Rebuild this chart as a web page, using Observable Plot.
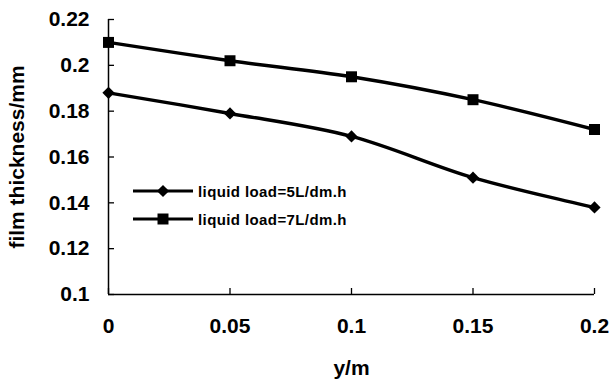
<!DOCTYPE html>
<html>
<head>
<meta charset="utf-8">
<script src="https://cdn.jsdelivr.net/npm/d3@7"></script>
<script src="https://cdn.jsdelivr.net/npm/@observablehq/plot@0.6"></script>
<style>
  html, body { margin: 0; padding: 0; background: #fff; }
  #chart { position: relative; width: 611px; height: 380px; }
  #legend { position: absolute; left: 133px; top: 177px; font-family: "Liberation Sans", Arial, sans-serif; font-weight: bold; font-size: 15px; letter-spacing: 0.4px; color: #000; }
  #legend .row { display: flex; align-items: center; height: 28px; }
  #legend svg { display: block; margin-right: 3px; }
</style>
</head>
<body>
<div id="chart"><div id="legend"></div></div>
<script>
// Position along the film (m)
const positions = [0, 0.05, 0.1, 0.15, 0.2];
// Film thickness (mm) for each liquid load
const load5 = [0.188, 0.179, 0.169, 0.151, 0.138];
const load7 = [0.210, 0.202, 0.195, 0.185, 0.172];
const seriesNames = ["liquid load=5L/dm.h", "liquid load=7L/dm.h"];
const seriesSymbols = ["diamond2", "square"];
const xTicks = [0, 0.05, 0.1, 0.15, 0.2];
const yTicks = [0.1, 0.12, 0.14, 0.16, 0.18, 0.2, 0.22];

const rows = [load5, load7].flatMap((vals, s) =>
  positions.map((x, i) => ({x, y: vals[i], series: seriesNames[s]}))
);
const symbolRadius = {diamond2: 5.5, square: 6.2};

const fmt = d => String(+d.toFixed(2));
const font = "Liberation Sans, Arial, sans-serif";

const chart = Plot.plot({
  width: 611,
  height: 380,
  marginLeft: 108,
  marginRight: 17,
  marginTop: 19,
  marginBottom: 86,
  style: {fontFamily: font, fontSize: "21px", fontWeight: "bold", color: "#000", background: "#fff"},
  x: {domain: [0, 0.2]},
  y: {domain: [0.1, 0.22]},
  marks: [
    // inward tick marks
    Plot.axisX({ticks: xTicks, tickSize: 6, dy: -6, text: null, label: null, strokeWidth: 1.3}),
    Plot.axisY({ticks: yTicks, tickSize: 6, dx: 6, text: null, label: null, strokeWidth: 1.3}),
    // tick labels and titles
    Plot.axisX({ticks: xTicks, tickSize: 0, tickPadding: 24, tickFormat: fmt,
      label: "y/m", labelAnchor: "center", labelArrow: "none", labelOffset: 80}),
    Plot.axisY({ticks: yTicks, tickSize: 0, tickPadding: 19, tickFormat: fmt,
      label: "film thickness/mm", labelAnchor: "center", labelArrow: "none", labelOffset: 99}),
    Plot.ruleX([0], {stroke: "#000", strokeWidth: 1.5}),
    Plot.ruleY([0.1], {stroke: "#000", strokeWidth: 1.5}),
    Plot.line(rows, {x: "x", y: "y", z: "series", stroke: "#000", strokeWidth: 3.4, curve: "catmull-rom"}),
    ...seriesNames.map((name, s) =>
      Plot.dot(rows.filter(d => d.series === name), {
        x: "x", y: "y", symbol: seriesSymbols[s], fill: "#000", stroke: "none",
        r: symbolRadius[seriesSymbols[s]]
      })
    )
  ]
});
document.getElementById("chart").prepend(chart);

// Legend drawn as a small overlay inside the plot area
const legend = d3.select("#legend");
seriesNames.forEach((name, i) => {
  const row = legend.append("div").attr("class", "row");
  const svg = row.append("svg").attr("width", 62).attr("height", 14);
  svg.append("line").attr("x1", 0).attr("x2", 60).attr("y1", 7).attr("y2", 7)
    .attr("stroke", "#000").attr("stroke-width", 3);
  const sym = seriesSymbols[i] === "square" ? d3.symbolSquare : d3.symbolDiamond2;
  const rr = symbolRadius[seriesSymbols[i]];
  svg.append("path").attr("transform", "translate(30,7)")
    .attr("d", d3.symbol(sym, Math.PI * rr * rr)()).attr("fill", "#000");
  row.append("span").text(name);
});
</script>
</body>
</html>
